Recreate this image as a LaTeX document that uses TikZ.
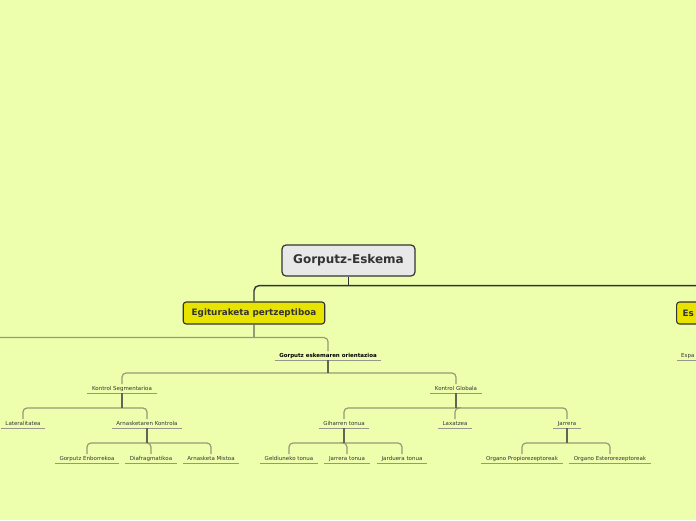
\documentclass[tikz,border=0pt]{standalone}
\usepackage{fontspec}
\setmainfont{DejaVu Sans}
\definecolor{bg}{RGB}{237,255,173}
\definecolor{yel}{RGB}{232,228,0}
\definecolor{rootfill}{RGB}{232,232,232}
\definecolor{dark}{RGB}{51,51,51}
\definecolor{barc}{RGB}{150,154,118}
\definecolor{stubc}{RGB}{100,100,85}
\definecolor{ulc}{RGB}{150,150,140}
\begin{document}
\begin{tikzpicture}[x=1pt,y=-1pt,
 rootbox/.style={draw=dark, fill=rootfill, line width=1.2pt, rounded corners=4pt, minimum width=133pt, minimum height=31pt, font=\fontsize{12}{14}\selectfont\bfseries, text=dark, inner sep=0pt},
 mainbox/.style={draw=dark, fill=yel, line width=1.1pt, rounded corners=3pt, minimum height=22pt, inner xsep=8.5pt, inner ysep=0pt, font=\fontsize{8.8}{10}\selectfont\bfseries, text=dark},
 subtopic/.style={anchor=south, inner xsep=4.5pt, inner ysep=1.5pt, text height=4.2pt, text depth=1.2pt, font=\fontsize{5.5}{6}\selectfont, text=dark},
 boldtopic/.style={subtopic, font=\fontsize{5.5}{6}\selectfont\bfseries, text=black},
 ul/.style={draw=ulc, line width=0.9pt},
 rootline/.style={draw=dark, line width=1.4pt, rounded corners=5pt},
 barline/.style={draw=barc, line width=1.2pt, rounded corners=4pt},
 stubline/.style={draw=stubc, line width=1.2pt},
]
\useasboundingbox (0,0) rectangle (696,520);
\clip (0,0) rectangle (696,520);
\fill[bg] (0,0) rectangle (696,520);

% main nodes
\node[rootbox] (R) at (348.5,260.5) {Gorputz-Eskema};
\node[mainbox] (EP) at (254,313) {Egituraketa pertzeptiboa};
\node[mainbox, anchor=west, text width=124pt, align=left, inner xsep=6pt] (RN) at (676,313) {Es};

% level 1
\node[boldtopic] (GEO) at (328,360) {Gorputz eskemaren orientazioa};
\node[subtopic, anchor=south west, text width=60pt, align=left, inner xsep=4pt] (ESP) at (677,360) {Espa};
\coordinate (LFT) at (-40,350);

% level 2
\node[subtopic] (KS) at (122,393) {Kontrol Segmentarioa};
\node[subtopic] (KG) at (456,393) {Kontrol Globala};

% level 3
\node[subtopic] (LAT) at (23,428) {Lateralitatea};
\node[subtopic] (AK) at (147,428) {Arnasketaren Kontrola};
\node[subtopic] (GT) at (344,428) {Giharren tonua};
\node[subtopic] (LAX) at (455,428) {Laxatzea};
\node[subtopic] (JAR) at (567,428) {Jarrera};

% level 4
\node[subtopic] (GE) at (87,463) {Gorputz Enborrekoa};
\node[subtopic] (DIA) at (151,463) {Diafragmatikoa};
\node[subtopic] (AM) at (211,463) {Arnasketa Mistoa};
\node[subtopic] (GEL) at (289,463) {Geldiuneko tonua};
\node[subtopic] (JT) at (347,463) {Jarrera tonua};
\node[subtopic] (JDT) at (402,463) {Jarduera tonua};
\node[subtopic] (OP) at (522,463) {Organo Propiorezeptoreak};
\node[subtopic] (OE) at (610,463) {Organo Esterorezeptoreak};

% underlines
\foreach \n in {GEO,ESP,KS,KG,LAT,AK,GT,LAX,JAR,GE,DIA,AM,GEL,JT,JDT,OP,OE}
  \draw[ul] (\n.south west) -- (\n.south east);

% root connectors
\path (R.south) ++(0,9) coordinate (Rb);
\draw[rootline] (R.south) -- (Rb);
\draw[rootline] (Rb) -| (EP.north);
\draw[rootline] (Rb) -| (RN.north);

% Egituraketa connectors
\path (EP.south) ++(0,13) coordinate (EPb);
\draw[barline] (EP.south) -- (EPb);
\draw[barline] (EPb) -| (GEO.north);
\draw[barline] (EPb) -| (LFT);

% GEO
\path (GEO.south) ++(0,13) coordinate (GEOb);
\draw[barline] (GEOb) -| (KS.north);
\draw[barline] (GEOb) -| (KG.north);
\draw[stubline] (GEO.south) -- (GEOb);

% KS
\path (KS.south) ++(0,15) coordinate (KSb);
\draw[barline] (KSb) -| (LAT.north);
\draw[barline] (KSb) -| (AK.north);
\draw[stubline] (KS.south) -- (KSb);

% KG
\path (KG.south) ++(0,15) coordinate (KGb);
\draw[barline] (KGb) -| (GT.north);
\draw[barline] (KGb) -| (LAX.north);
\draw[barline] (KGb) -| (JAR.north);
\draw[stubline] (KG.south) -- (KGb);

% AK
\path (AK.south) ++(0,15) coordinate (AKb);
\draw[barline] (AKb) -| (GE.north);
\draw[barline] (AKb) -| (DIA.north);
\draw[barline] (AKb) -| (AM.north);
\draw[stubline] (AK.south) -- (AKb);

% GT
\path (GT.south) ++(0,15) coordinate (GTb);
\draw[barline] (GTb) -| (GEL.north);
\draw[barline] (GTb) -| (JT.north);
\draw[barline] (GTb) -| (JDT.north);
\draw[stubline] (GT.south) -- (GTb);

% JAR
\path (JAR.south) ++(0,15) coordinate (JARb);
\draw[barline] (JARb) -| (OP.north);
\draw[barline] (JARb) -| (OE.north);
\draw[stubline] (JAR.south) -- (JARb);
\end{tikzpicture}
\end{document}
